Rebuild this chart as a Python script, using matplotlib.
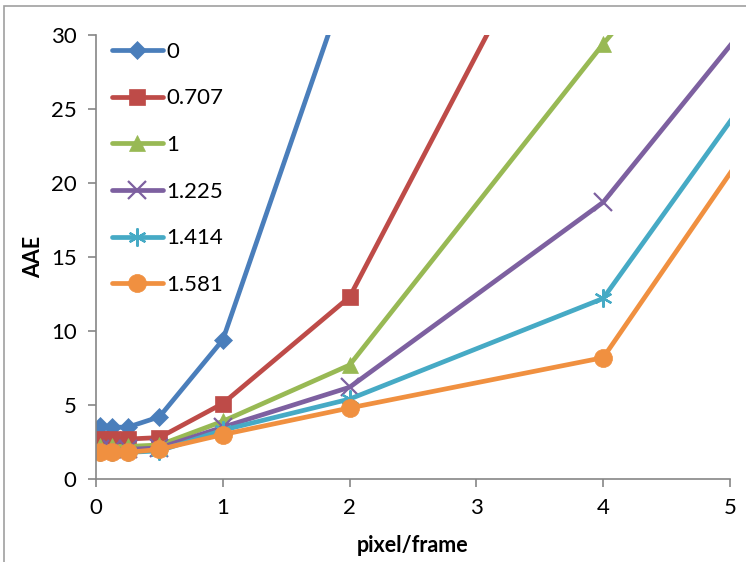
import matplotlib.pyplot as plt
import numpy as np
from matplotlib.patches import Rectangle

# x positions of the measurements (pixel/frame)
speed = [0.03, 0.125, 0.25, 0.5, 1, 2, 4, 8]

# AAE per series (label = value of the parameter)
labels = ['0', '0.707', '1', '1.225', '1.414', '1.581']
aae_0 = [3.6, 3.5, 3.5, 4.2, 9.4, 34.2, 60, 90]
aae_0707 = [2.7, 2.7, 2.7, 2.8, 5.1, 12.3, 45, 80]
aae_1 = [2.2, 2.2, 2.2, 2.3, 3.9, 7.7, 29.4, 70]
aae_1225 = [2.0, 2.0, 2.0, 2.1, 3.5, 6.2, 18.7, 61]
aae_1414 = [1.8, 1.8, 1.8, 1.9, 3.3, 5.4, 12.2, 60]
aae_1581 = [1.8, 1.8, 1.8, 2.0, 3.0, 4.8, 8.2, 58]

series = [aae_0, aae_0707, aae_1, aae_1225, aae_1414, aae_1581]
colors = ['#4A7EBB', '#BE4B48', '#98B954', '#7D60A0', '#46AAC5', '#F09040']
markers = ['D', 's', '^', 'x', (6, 2, 0), 'o']
msizes = [9, 12, 12, 13, 13, 13]

plt.rcParams['font.family'] = ['Lato', 'DejaVu Sans']

fig = plt.figure(figsize=(7.46, 5.62), dpi=100)
ax = fig.add_axes([96 / 746, 1 - 479 / 562, 634 / 746, 444 / 562])

for vals, lab, c, m, ms in zip(series, labels, colors, markers, msizes):
    thin = m in ('x',) or isinstance(m, tuple)
    ax.plot(speed, vals, color=c, lw=3.4, marker=m, markersize=ms,
            markeredgewidth=1.6 if thin else 0.5, markeredgecolor=c,
            label=lab, solid_capstyle='round', clip_on=True)

ax.set_xlim(0, 5)
ax.set_ylim(0, 30)
ax.set_xticks(range(6))
ax.set_yticks(range(0, 31, 5))
for s in ['top', 'right']:
    ax.spines[s].set_visible(False)
for s in ['left', 'bottom']:
    ax.spines[s].set_color('#868686')
    ax.spines[s].set_linewidth(1.2)
ax.tick_params(direction='out', length=6, width=1.2, color='#868686',
               labelsize=16, pad=8)
ax.set_xlabel('pixel/frame', fontsize=15.5, fontweight='bold', labelpad=12)
ax.set_ylabel('AAE', fontsize=15.5, fontweight='bold', labelpad=5)

leg = ax.legend(loc='upper left', bbox_to_anchor=(-0.01, 1.035), frameon=False,
                fontsize=16, handlelength=2.3, labelspacing=1.2,
                handletextpad=0.15, borderaxespad=0.6)

# chart area frame
fig.patches.append(Rectangle((4 / 746, -0.1), 1.2, 1 - 6 / 562 + 0.1,
                             transform=fig.transFigure, fill=False,
                             edgecolor='#A0A0A0', lw=1.2))

fig.savefig('out.png', dpi=100)
